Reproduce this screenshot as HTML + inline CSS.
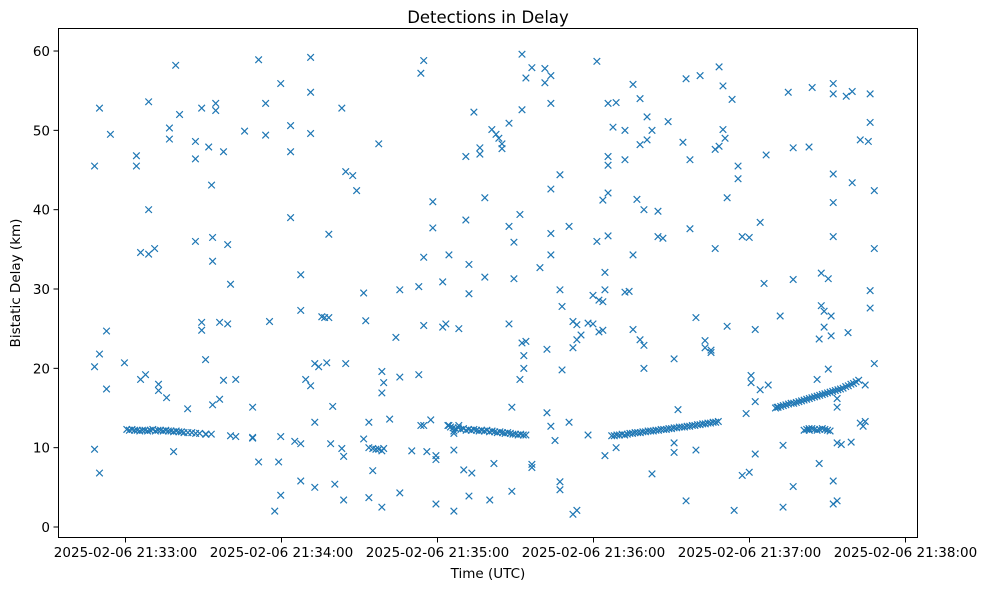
<!DOCTYPE html>
<html><head><meta charset="utf-8"><style>
body{margin:0;background:#fff;}
svg{display:block;font-family:"DejaVu Sans","Liberation Sans",sans-serif;}
</style></head><body>
<svg id="chart" width="988" height="590">
<rect x="0" y="0" width="988" height="590" fill="#fff"/>
<text x="488" y="23" text-anchor="middle" font-size="16.5">Detections in Delay</text>
<text x="488" y="578" text-anchor="middle" font-size="13.5">Time (UTC)</text>
<text transform="translate(20,283) rotate(-90)" text-anchor="middle" font-size="13.5">Bistatic Delay (km)</text>
<g id="marks"></g>
<g id="axes"></g>
<rect x="58.5" y="28.5" width="859" height="509" fill="none" stroke="#000" stroke-width="1"/>
</svg>
<script>
// seconds since 21:33:00
const scatterTimes = [-11.9,-11.9,-11.9,-10,-10,-10,-7.3,-7.3,-5.8,-0.4,4.2,4.2,5.8,5.8,7.7,8.9,8.9,8.9,11.2,12.7,12.7,15.8,16.9,16.9,18.5,19.3,20.8,23.9,26.9,26.9,26.9,29.3,29.3,29.3,30.8,30.8,32,33.1,33.5,33.5,33.5,34.7,34.7,36.2,36.2,37.7,37.7,39.3,39.3,40.4,40.4,42.4,42.4,45.8,48.9,48.9,48.9,51.2,51.2,53.9,53.9,55.4,57.4,58.9,59.7,59.7,59.7,63.5,63.5,63.5,65.1,67.4,67.4,67.4,67.4,69.3,71.2,71.2,71.2,71.2,72.8,72.8,72.8,74.3,75.5,76.6,77.4,78.2,78.2,78.9,79.7,80.5,83.2,83.2,83.9,83.9,84.7,84.7,87.4,88.9,91.6,91.6,92.4,93.6,93.6,93.6,95.1,95.1,96.3,97.4,97.4,98.6,98.6,98.6,98.6,99.3,99.3,101.6,104,105.5,105.5,105.5,110.1,112.8,112.8,113.6,113.6,114.7,114.7,114.7,114.7,115.9,117.4,118.2,118.2,119.4,119.4,119.4,122,122,123.2,124.4,124.4,126.3,126.3,126.3,126.3,128.2,128.2,130.1,130.9,130.9,132.1,132.1,132.1,133.2,134,136.3,136.3,138.2,138.2,140.1,140.9,141.7,142.5,143.6,144.8,144.8,147.5,147.5,147.5,148.6,148.6,149.4,149.4,151.7,151.7,152.5,152.5,152.5,153.2,153.2,154,154,154,156.3,156.3,156.3,159.4,161.3,161.3,162.1,162.1,163.6,163.6,163.6,163.6,163.6,163.6,165.2,167.1,167.1,167.1,167.1,167.9,167.9,170.6,170.6,172.1,172.1,172.1,173.6,173.6,173.6,175.2,177.9,177.9,179.8,179.8,181.3,181.3,182.1,182.1,183.6,183.6,183.6,184.4,184.4,184.4,185.6,185.6,185.6,185.6,185.6,187.5,188.7,188.7,192.1,192.1,192.1,193.7,195.2,195.2,195.2,196.7,197.9,197.9,197.9,199.4,199.4,199.4,200.6,200.6,202.5,202.5,204.8,204.8,206.7,208.7,211,211,211,212.5,214.4,215.6,215.6,217.1,217.1,219.4,219.4,221,222.9,222.9,225.2,225.2,226.8,226.8,228.3,228.3,229.8,229.8,230.6,231.4,231.4,233.3,234.1,235.6,235.6,237.2,237.2,238.7,239.9,239.9,240.6,240.6,242.2,242.2,242.2,244.1,244.1,245.6,246.4,247.2,250.6,251.8,252.9,252.9,254.9,256.8,256.8,256.8,262.9,262.9,264.1,266,266.8,266.8,267.6,267.6,268.7,268.7,270.3,270.3,271.4,271.4,272.2,272.2,272.2,272.2,272.2,272.2,272.2,273.7,273.7,273.7,273.7,275.3,277.2,277.9,279.1,279.5,279.5,282.6,282.6,283.7,284.5,284.5,285.7,286.4,286.4,286.4,286.4,288,288,288];
const scatterDelays = [45.5,20.2,9.8,52.8,21.8,6.8,24.7,17.4,49.5,20.7,45.5,46.8,34.6,18.6,19.2,53.6,40.0,34.4,35.1,18.0,17.2,16.3,50.3,48.9,9.5,58.2,52.0,14.9,46.4,48.6,36.0,52.8,25.8,24.8,21.1,11.7,47.9,43.1,36.5,33.5,15.4,53.4,52.5,25.8,16.1,47.3,18.5,35.6,25.6,30.6,11.5,18.6,11.4,49.9,11.2,11.3,15.1,58.9,8.2,53.4,49.4,25.9,2.0,8.2,55.9,11.4,4.0,50.6,47.3,39.0,10.8,31.8,27.3,10.5,5.8,18.6,59.2,54.8,49.6,17.8,20.6,13.2,5.0,20.2,26.5,26.4,20.7,36.9,26.4,10.5,15.2,5.4,52.8,9.9,3.4,8.9,44.8,20.6,44.3,42.4,29.5,11.1,26.0,13.2,3.7,10.0,7.1,9.9,9.8,48.3,9.8,19.6,16.9,2.5,9.6,18.2,9.9,13.6,23.9,29.9,18.9,4.3,9.6,30.3,19.2,57.2,12.8,58.8,34.0,25.4,12.8,9.5,13.5,41.0,37.7,9.0,8.5,2.9,30.9,25.2,25.6,34.3,12.8,12.1,2.0,9.7,11.8,25.0,12.8,7.2,38.7,46.7,33.1,29.4,3.9,6.8,52.3,47.8,47.0,41.5,31.5,3.4,50.1,8.0,49.5,49.0,47.7,48.3,37.9,25.6,50.9,15.1,4.5,35.9,31.3,18.6,39.4,59.6,52.6,23.2,21.6,20.0,56.6,23.4,11.6,57.9,7.9,7.5,32.7,57.8,56.0,22.4,14.4,56.9,53.4,42.6,37.0,34.3,12.7,10.9,44.4,29.9,5.7,4.7,27.8,19.8,37.9,13.2,25.9,22.6,1.6,25.5,23.6,2.1,24.2,11.6,25.7,29.2,25.6,58.7,36.0,28.6,24.6,41.2,28.4,24.8,32.1,29.9,9.0,53.4,45.6,46.7,36.7,42.1,50.4,53.5,10.0,46.3,50.0,29.6,29.7,55.8,34.3,24.9,41.3,54.0,48.2,23.6,22.9,20.0,40.0,48.8,51.7,6.7,50.0,36.6,39.8,36.4,51.1,21.2,10.6,9.4,14.8,48.5,56.5,3.3,46.3,37.6,26.4,9.7,56.9,23.5,22.6,22.3,22.0,35.1,47.6,58.0,48.0,55.6,50.1,49.0,41.5,25.3,53.9,2.1,45.5,43.9,36.6,6.5,14.3,36.5,6.9,19.1,18.2,9.2,24.9,15.8,38.4,17.3,30.7,46.9,17.9,15.1,26.6,10.3,2.5,54.8,31.2,47.8,5.1,47.9,12.4,55.4,18.6,8.0,23.7,27.9,32.0,27.2,25.2,31.3,19.9,24.1,26.6,55.9,54.6,44.5,40.9,36.6,5.8,2.9,15.1,16.2,10.6,3.3,10.4,54.3,24.5,10.7,54.9,43.4,48.8,13.1,12.7,17.9,13.3,48.6,54.6,51.0,27.6,29.8,20.6,42.4,35.1];
const bandTimes = [0.5,1.5,2.5,3.5,4.5,5.5,6.5,7.5,8.5,9.5,10.5,11.5,12.5,13.5,14.5,15.5,16.5,17.5,18.5,19.5,20.5,21.5,22.5,24,25.5,27,28.5,31,33,
124,125,126,127,128,129,130,131,132,133,134,135,136,137,138,139,140,141,142,143,144,145,146,147,148,149,150,151,152,153,
187,188,189,190,191,192,193,194,195,196,197,198,199,200,201,202,203,204,205,206,207,208,209,210,211,212,213,214,215,216,217,218,219,220,221,222,223,224,225,226,227,228,
250,251,252,253,254,255,256,257,258,259,260,261,262,263,264,265,266,267,268,269,270,271,272,273,274,275,276,277,278,279,280,281,282,
261,262,263,264,265,266,267,268,269,270,271];
const bandDelays = [12.3,12.2,12.3,12.2,12.2,12.1,12.2,12.2,12.1,12.2,12.3,12.1,12.2,12.2,12.1,12.2,12.1,12.1,12.0,12.1,12.0,12.0,11.9,11.9,11.9,11.8,11.8,11.7,11.7,
12.8,12.6,12.5,12.4,12.5,12.3,12.4,12.2,12.3,12.2,12.3,12.2,12.1,12.2,12.1,12.2,12.0,12.1,12.0,11.9,12.0,11.9,11.8,11.9,11.8,11.7,11.7,11.6,11.7,11.6,
11.5,11.5,11.6,11.6,11.7,11.6,11.7,11.8,11.8,11.9,11.9,11.9,12.0,12.0,12.1,12.1,12.1,12.2,12.2,12.3,12.3,12.3,12.4,12.4,12.5,12.5,12.6,12.6,12.6,12.7,12.7,12.8,12.8,12.9,12.9,13.0,13.0,13.1,13.1,13.2,13.2,13.3,
15.0,15.1,15.2,15.3,15.4,15.5,15.6,15.6,15.7,15.8,15.9,16.0,16.1,16.2,16.3,16.4,16.5,16.6,16.7,16.8,16.9,17.0,17.1,17.2,17.3,17.4,17.5,17.7,17.8,18.0,18.1,18.3,18.5,
12.2,12.3,12.2,12.4,12.3,12.2,12.3,12.4,12.3,12.2,12.1];
const yTicks = [0,10,20,30,40,50,60];
const xTicks = [0,60,120,180,240,300];
const xTickLabels = ["2025-02-06 21:33:00","2025-02-06 21:34:00","2025-02-06 21:35:00","2025-02-06 21:36:00","2025-02-06 21:37:00","2025-02-06 21:38:00"];

const NS = "http://www.w3.org/2000/svg";
function xs(t){ return 125.5 + t * 156 / 60; }
function ys(d){ return 527 - d * 7.933; }
const marks = document.getElementById('marks');
function drawX(t, d){
  const cx = xs(t), cy = ys(d), r = 3.3;
  const p = document.createElementNS(NS, 'path');
  p.setAttribute('d', `M${cx-r},${cy-r}L${cx+r},${cy+r}M${cx-r},${cy+r}L${cx+r},${cy-r}`);
  p.setAttribute('stroke', '#1f77b4');
  p.setAttribute('stroke-width', '1.2');
  
  
  marks.appendChild(p);
}
for (let i = 0; i < Math.min(scatterTimes.length, scatterDelays.length); i++) drawX(scatterTimes[i], scatterDelays[i]);
for (let i = 0; i < Math.min(bandTimes.length, bandDelays.length); i++) drawX(bandTimes[i], bandDelays[i]);

const axes = document.getElementById('axes');
yTicks.forEach(v => {
  const y = ys(v);
  const l = document.createElementNS(NS, 'line');
  l.setAttribute('x1', 53.5); l.setAttribute('x2', 58.5); l.setAttribute('y1', y); l.setAttribute('y2', y);
  l.setAttribute('stroke', '#000');
  
  
  axes.appendChild(l);
  const tx = document.createElementNS(NS, 'text');
  tx.setAttribute('x', 50); tx.setAttribute('y', y + 5);
  tx.setAttribute('text-anchor', 'end'); tx.setAttribute('font-size', '13.5');
  tx.textContent = v;
  
  
  axes.appendChild(tx);
});
xTicks.forEach((v, i) => {
  const x = xs(v);
  const l = document.createElementNS(NS, 'line');
  l.setAttribute('x1', x); l.setAttribute('x2', x); l.setAttribute('y1', 537.5); l.setAttribute('y2', 542.5);
  l.setAttribute('stroke', '#000');
  
  
  axes.appendChild(l);
  const tx = document.createElementNS(NS, 'text');
  tx.setAttribute('x', x); tx.setAttribute('y', 557);
  tx.setAttribute('text-anchor', 'middle'); tx.setAttribute('font-size', '13.5');
  tx.textContent = xTickLabels[i];
  
  
  axes.appendChild(tx);
});
</script>
</body></html>
